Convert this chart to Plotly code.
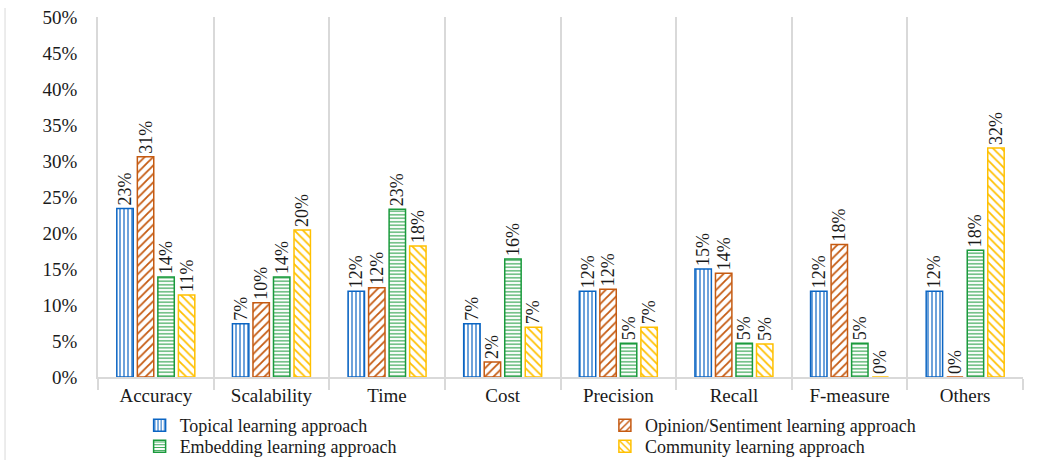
import plotly.graph_objects as go

categories = ["Accuracy", "Scalability", "Time", "Cost", "Precision", "Recall", "F-measure", "Others"]

topical = [0.234, 0.074, 0.119, 0.074, 0.119, 0.150, 0.119, 0.119]
opinion = [0.306, 0.103, 0.124, 0.021, 0.122, 0.144, 0.184, 0.0]
embedding = [0.139, 0.139, 0.233, 0.164, 0.047, 0.047, 0.047, 0.176]
community = [0.114, 0.204, 0.182, 0.069, 0.069, 0.046, 0.0, 0.318]

series = [
    ("Topical learning approach", topical, "#0B65C3", "|", 4, 0.3),
    ("Opinion/Sentiment learning approach", opinion, "#C55A11", "/", 6, 0.3),
    ("Embedding learning approach", embedding, "#1A9A3C", "-", 3.5, 0.3),
    ("Community learning approach", community, "#FFC000", "\\", 6, 0.3),
]

FONT = "Liberation Serif, Times New Roman, serif"
TEXT_COLOR = "#1a1a1a"
GRID = "#D9D9D9"
FS = 19

# one single-entry legend per series, laid out as a 2x2 block under the axis
legend_ids = ["legend", "legend2", "legend3", "legend4"]
legend_pos = [(0.045, -0.135), (0.548, -0.135), (0.045, -0.193), (0.548, -0.193)]

fig = go.Figure()
for (name, vals, col, shape, size, sol), lid in zip(series, legend_ids):
    fig.add_trace(go.Bar(
        name=name,
        x=categories,
        y=vals,
        legend=lid,
        marker=dict(
            color="white",
            line=dict(color=col, width=1.5),
            pattern=dict(shape=shape, fgcolor=col, bgcolor="white",
                         size=size, solidity=sol, fillmode="replace"),
        ),
        texttemplate="%{y:.0%}",
        textposition="outside",
        textangle=-90,
        constraintext="none",
        cliponaxis=False,
        textfont=dict(family=FONT, size=18, color=TEXT_COLOR),
    ))

legend_layout = {}
for lid, (lx, ly) in zip(legend_ids, legend_pos):
    legend_layout[lid] = dict(
        x=lx, y=ly, xanchor="left", yanchor="middle",
        itemwidth=30,
        font=dict(family=FONT, size=18, color=TEXT_COLOR),
        bgcolor="rgba(0,0,0,0)",
    )

fig.update_layout(
    width=1040,
    height=460,
    margin=dict(l=98, r=17, t=17, b=83, autoexpand=False),
    paper_bgcolor="white",
    plot_bgcolor="white",
    barmode="group",
    bargap=0.29,
    bargroupgap=0.2,
    font=dict(family=FONT, size=FS, color=TEXT_COLOR),
    xaxis=dict(
        type="category",
        tickson="boundaries",
        showgrid=True,
        gridcolor=GRID,
        gridwidth=1.5,
        showline=True,
        linecolor=GRID,
        linewidth=1.5,
        ticks="outside",
        ticklen=11,
        tickcolor=GRID,
        tickwidth=1.5,
        tickfont=dict(family=FONT, size=FS, color=TEXT_COLOR),
    ),
    yaxis=dict(
        range=[0, 0.5],
        dtick=0.05,
        tickformat=".0%",
        showgrid=False,
        zeroline=False,
        showline=True,
        linecolor=GRID,
        linewidth=1.5,
        ticks="",
        ticklabelstandoff=15,
        tickfont=dict(family=FONT, size=FS, color=TEXT_COLOR),
    ),
    showlegend=True,
    **legend_layout,
)

# outer chart frame on the left edge
fig.add_shape(type="line", xref="paper", yref="paper",
              x0=-0.1005, x1=-0.1005, y0=1.025, y1=-0.24,
              line=dict(color=GRID, width=1))

fig.write_html("out.html")
